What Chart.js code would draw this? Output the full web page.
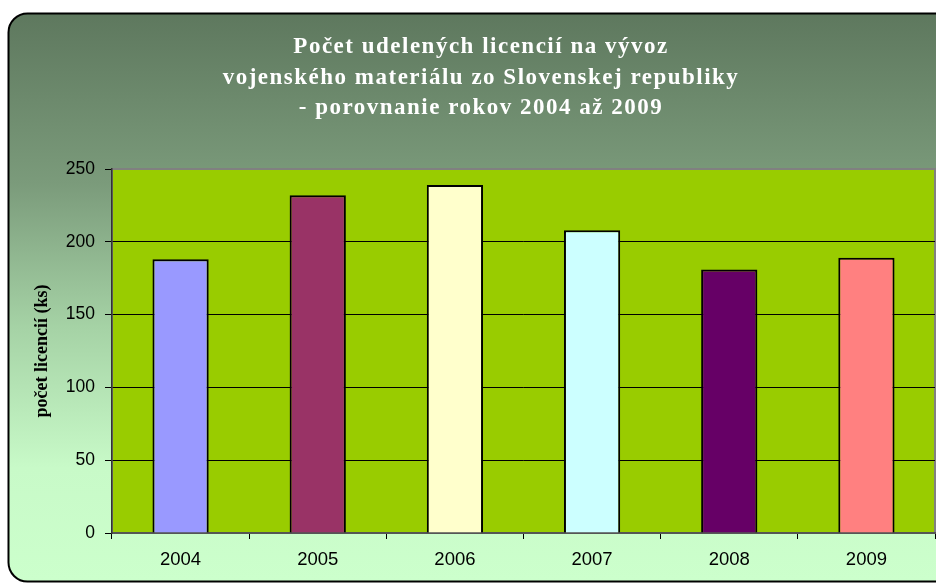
<!DOCTYPE html>
<html>
<head>
<meta charset="utf-8">
<script src="https://cdn.jsdelivr.net/npm/chart.js@4"></script>
<style>
  html, body { margin: 0; padding: 0; background: #fff; }
  #wrap { width: 936px; height: 583px; }
</style>
</head>
<body>
<div id="wrap"><canvas id="chart" width="936" height="583"></canvas></div>
<script>
// Chart data
const years = ['2004', '2005', '2006', '2007', '2008', '2009'];
const licences = [188, 232, 239, 208, 181, 189];
const titleLines = [
    'Počet udelených licencií na vývoz',
    'vojenského materiálu zo Slovenskej republiky',
    '- porovnanie rokov 2004 až 2009'
];
const yAxisTitle = 'počet licencií (ks)';

// Bar fill colours (one per year)
const barColors = ['#9999FF', '#993366', '#FFFFCC', '#CCFFFF', '#660066', '#FF8080'];

// Rounded gradient frame, plot area fill and the title
const framePlugin = {
    id: 'frame',
    beforeDraw(chart) {
        const ctx = chart.ctx;
        const area = chart.chartArea;
        ctx.save();

        // outer rounded box
        const x = 8.5, y = 13.5, w = 945, h = 568, r = 19;
        const grad = ctx.createLinearGradient(0, y, 0, y + h);
        grad.addColorStop(0, '#5E785E');
        grad.addColorStop(0.3, '#7B9B7B');
        grad.addColorStop(0.55, '#A5D2A5');
        grad.addColorStop(0.8, '#C8FAC8');
        grad.addColorStop(1, '#CCFFCC');
        ctx.beginPath();
        ctx.roundRect(x, y, w, h, r);
        ctx.fillStyle = grad;
        ctx.fill();
        ctx.lineWidth = 2;
        ctx.strokeStyle = '#000';
        ctx.stroke();

        // plot background
        ctx.fillStyle = '#99CC00';
        ctx.fillRect(area.left, area.top, area.right - area.left, area.bottom - area.top);
        ctx.strokeStyle = '#808080';
        ctx.lineWidth = 2;
        ctx.strokeRect(area.left, area.top, area.right - area.left, area.bottom - area.top);

        // title
        ctx.fillStyle = '#fff';
        ctx.font = 'bold 23px "Liberation Serif", "Times New Roman", serif';
        ctx.letterSpacing = '1.5px';
        ctx.textAlign = 'center';
        ctx.textBaseline = 'alphabetic';
        titleLines.forEach((line, i) => {
            ctx.fillText(line, 481, 53 + i * 30.5);
        });
        ctx.restore();
    }
};

const ctx = document.getElementById('chart').getContext('2d');
new Chart(ctx, {
    type: 'bar',
    data: {
        labels: years,
        datasets: [{
            data: licences,
            backgroundColor: barColors,
            borderColor: '#000',
            borderWidth: 2,
            categoryPercentage: 1,
            barPercentage: 0.41
        }]
    },
    options: {
        responsive: false,
        animation: false,
        events: [],
        layout: { padding: { top: 169, right: 1, bottom: 0, left: 0 } },
        plugins: {
            legend: { display: false },
            tooltip: { enabled: false },
            title: { display: false }
        },
        scales: {
            x: {
                offset: true,
                grid: {
                    offset: true,
                    drawOnChartArea: false,
                    drawTicks: true,
                    tickLength: 6,
                    tickColor: '#000'
                },
                border: { color: '#555', width: 2 },
                ticks: {
                    color: '#000',
                    padding: 10,
                    font: { family: '"Liberation Sans", Arial, sans-serif', size: 18.5 }
                },
                afterFit: scale => { scale.height = 50; }
            },
            y: {
                min: 0,
                max: 250,
                ticks: {
                    stepSize: 50,
                    color: '#000',
                    padding: 10,
                    font: { family: '"Liberation Sans", Arial, sans-serif', size: 17.5 }
                },
                grid: {
                    color: c => c.tick && c.tick.value === 250 ? '#808080' : '#000',
                    lineWidth: 1,
                    tickLength: 7,
                    tickColor: '#000'
                },
                border: { color: '#333', width: 1.5 },
                title: {
                    display: true,
                    text: yAxisTitle,
                    color: '#000',
                    padding: { top: 32, bottom: 0 },
                    font: { family: '"Liberation Serif", "Times New Roman", serif', size: 18, weight: 'bold' }
                },
                afterFit: scale => { scale.width = 112; }
            }
        }
    },
    plugins: [framePlugin]
});
</script>
</body>
</html>
